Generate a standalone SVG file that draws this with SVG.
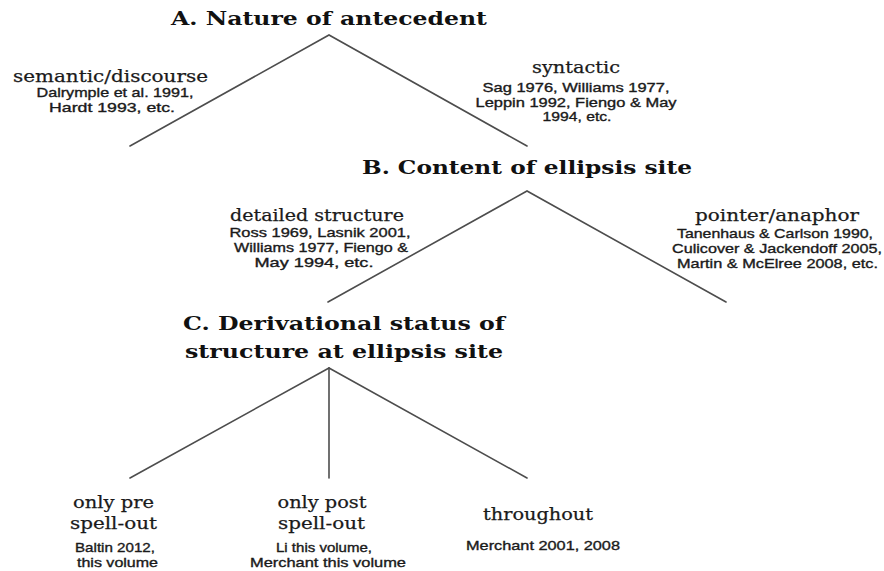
<svg xmlns="http://www.w3.org/2000/svg" width="884" height="571" viewBox="0 0 884 571">
<style>
.t{font-family:"DejaVu Serif","Liberation Serif",serif;font-weight:bold;font-size:19px;fill:#111;text-anchor:middle}
.l{font-family:"DejaVu Serif","Liberation Serif",serif;font-size:17.5px;fill:#1a1a1a;stroke:#1a1a1a;stroke-width:0.25;text-anchor:middle}
.r{font-family:"Liberation Sans",Arial,sans-serif;font-size:13px;fill:#1a1a1a;stroke:#1a1a1a;stroke-width:0.35;text-anchor:middle}
.e{stroke:#4d4d4d;stroke-width:1.6;fill:none;stroke-linecap:round}
</style>
<rect width="884" height="571" fill="#fff"/>
<g id="connectors">
<polyline class="e" points="130,146 329,35 527,146"/>
<polyline class="e" points="328,302 527,191 726,302"/>
<line class="e" x1="329" y1="368" x2="130" y2="478"/>
<line class="e" x1="329" y1="368" x2="329" y2="478"/>
<line class="e" x1="329" y1="368" x2="527" y2="478"/>
</g>
<g id="nodeA">
<text class="t" x="329" y="25" textLength="316" lengthAdjust="spacingAndGlyphs">A. Nature of antecedent</text>
</g>
<g id="semantic">
<text class="l" x="110.5" y="82" textLength="195" lengthAdjust="spacingAndGlyphs">semantic/discourse</text>
<text class="r" x="115" y="97" textLength="157" lengthAdjust="spacingAndGlyphs">Dalrymple et al. 1991,</text>
<text class="r" x="112" y="112" textLength="126" lengthAdjust="spacingAndGlyphs">Hardt 1993, etc.</text>
</g>
<g id="syntactic">
<text class="l" x="576" y="73" textLength="88" lengthAdjust="spacingAndGlyphs">syntactic</text>
<text class="r" x="576" y="92" textLength="187" lengthAdjust="spacingAndGlyphs">Sag 1976, Williams 1977,</text>
<text class="r" x="576" y="107" textLength="201" lengthAdjust="spacingAndGlyphs">Leppin 1992, Fiengo &amp; May</text>
<text class="r" x="577" y="121" textLength="69" lengthAdjust="spacingAndGlyphs">1994, etc.</text>
</g>
<g id="nodeB">
<text class="t" x="527" y="174" textLength="330" lengthAdjust="spacingAndGlyphs">B. Content of ellipsis site</text>
</g>
<g id="detailed">
<text class="l" x="317" y="221" textLength="174" lengthAdjust="spacingAndGlyphs">detailed structure</text>
<text class="r" x="320" y="237" textLength="181" lengthAdjust="spacingAndGlyphs">Ross 1969, Lasnik 2001,</text>
<text class="r" x="321" y="252" textLength="174" lengthAdjust="spacingAndGlyphs">Williams 1977, Fiengo &amp;</text>
<text class="r" x="314" y="267" textLength="119" lengthAdjust="spacingAndGlyphs">May 1994, etc.</text>
</g>
<g id="pointer">
<text class="l" x="777" y="221" textLength="164" lengthAdjust="spacingAndGlyphs">pointer/anaphor</text>
<text class="r" x="775" y="238" textLength="196" lengthAdjust="spacingAndGlyphs">Tanenhaus &amp; Carlson 1990,</text>
<text class="r" x="777" y="253" textLength="210" lengthAdjust="spacingAndGlyphs">Culicover &amp; Jackendoff 2005,</text>
<text class="r" x="777.5" y="268" textLength="201" lengthAdjust="spacingAndGlyphs">Martin &amp; McElree 2008, etc.</text>
</g>
<g id="nodeC">
<text class="t" x="344" y="330" textLength="322" lengthAdjust="spacingAndGlyphs">C. Derivational status of</text>
<text class="t" x="344" y="358" textLength="318" lengthAdjust="spacingAndGlyphs">structure at ellipsis site</text>
</g>
<g id="pre">
<text class="l" x="113.5" y="508" textLength="81" lengthAdjust="spacingAndGlyphs">only pre</text>
<text class="l" x="113.5" y="529" textLength="87" lengthAdjust="spacingAndGlyphs">spell-out</text>
<text class="r" x="115" y="552" textLength="80" lengthAdjust="spacingAndGlyphs">Baltin 2012,</text>
<text class="r" x="117.5" y="567" textLength="81" lengthAdjust="spacingAndGlyphs">this volume</text>
</g>
<g id="post">
<text class="l" x="322" y="508" textLength="89" lengthAdjust="spacingAndGlyphs">only post</text>
<text class="l" x="321.5" y="529" textLength="87" lengthAdjust="spacingAndGlyphs">spell-out</text>
<text class="r" x="324" y="552" textLength="96" lengthAdjust="spacingAndGlyphs">Li this volume,</text>
<text class="r" x="328" y="567" textLength="156" lengthAdjust="spacingAndGlyphs">Merchant this volume</text>
</g>
<g id="throughout">
<text class="l" x="538" y="520" textLength="110" lengthAdjust="spacingAndGlyphs">throughout</text>
<text class="r" x="543" y="550" textLength="154" lengthAdjust="spacingAndGlyphs">Merchant 2001, 2008</text>
</g>
</svg>
